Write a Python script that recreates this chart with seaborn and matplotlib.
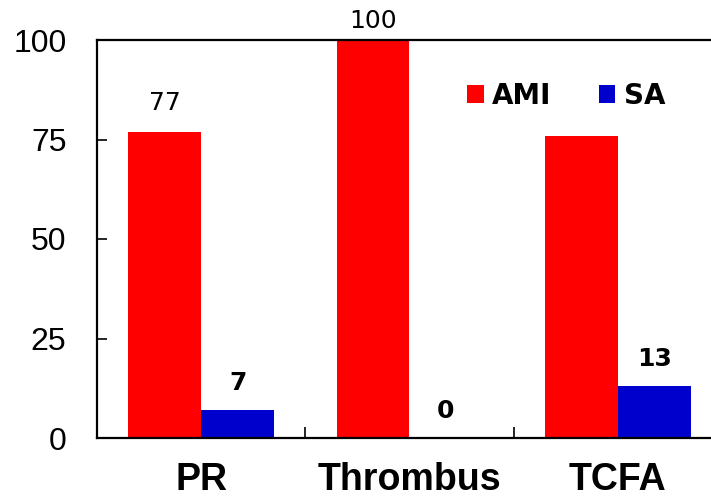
import matplotlib
matplotlib.use("Agg")
import matplotlib.pyplot as plt
import matplotlib.ticker as mticker
from matplotlib.patches import Patch
import seaborn as sns
import pandas as pd

# Data
categories = ["PR", "Thrombus", "TCFA"]
groups = ["AMI", "SA"]
ami_values = [77, 100, 76]
sa_values = [7, 0, 13]
ami_labelled = [True, True, False]
sa_labelled = [True, True, True]
y_ticks = [0, 25, 50, 75, 100]

colors = {"AMI": "#FF0000", "SA": "#0000CC"}

df = pd.DataFrame({
    "category": categories * 2,
    "group": ["AMI"] * len(categories) + ["SA"] * len(categories),
    "value": ami_values + sa_values,
})

sns.set_theme(style="white")
plt.rcParams["font.family"] = ["Liberation Sans", "DejaVu Sans"]
plt.rcParams["text.color"] = "black"
plt.rcParams["xtick.color"] = "black"
plt.rcParams["ytick.color"] = "black"
plt.rcParams["xtick.labelcolor"] = "black"
plt.rcParams["ytick.labelcolor"] = "black"

fig = plt.figure(figsize=(7.11, 5.01), dpi=100)
ax = fig.add_axes([97 / 711, 63 / 501, 625 / 711, 398 / 501])

sns.barplot(data=df, x="category", y="value", hue="group", order=categories,
            hue_order=groups, palette=colors, width=0.7, gap=0, saturation=1,
            legend=False, ax=ax, linewidth=0)

ax.set_xlim(-0.5, len(categories) - 0.5)
ax.set_ylim(0, 100)
ax.set_yticks(y_ticks)
ax.set_xlabel("")
ax.set_ylabel("")

for s in ax.spines.values():
    s.set_color("black")
    s.set_linewidth(1.6)
ax.spines["right"].set_visible(False)

# y ticks point inward
ax.tick_params(axis="y", direction="in", length=7, width=1.2, color="black",
               labelcolor="black", labelsize=23, pad=22, left=True)

# category dividers as inward minor ticks, no ticks at category centers
ax.xaxis.set_minor_locator(mticker.FixedLocator([0.5, 1.5]))
ax.tick_params(axis="x", which="major", length=0, labelsize=27, pad=17,
               labelcolor="black")
ax.tick_params(axis="x", which="minor", direction="in", length=8, width=1.2,
               color="black", bottom=True)
for t in ax.get_xticklabels():
    t.set_fontweight("bold")

# value labels
ami_bars, sa_bars = ax.containers[0], ax.containers[1]
for bar, v, show in zip(ami_bars, ami_values, ami_labelled):
    if show:
        off = 5 if v >= 100 else 12
        ax.annotate(f"{v}", (bar.get_x() + bar.get_width() / 2, v),
                    xytext=(0, off), textcoords="offset points",
                    ha="center", va="bottom", fontsize=18, color="black",
                    family="DejaVu Sans", annotation_clip=False)
for bar, v, show in zip(sa_bars, sa_values, sa_labelled):
    if show:
        ax.annotate(f"{v}", (bar.get_x() + bar.get_width() / 2, v),
                    xytext=(0, 11), textcoords="offset points",
                    ha="center", va="bottom", fontsize=18, fontweight="bold",
                    color="black", family="DejaVu Sans", annotation_clip=False)

handles = [Patch(facecolor=colors[g], edgecolor="none", label=g) for g in groups]
leg = ax.legend(handles=handles, loc="center left", bbox_to_anchor=(0.592, 0.86),
                ncol=2, frameon=False, handlelength=0.6, handleheight=0.6,
                handletextpad=0.3, columnspacing=1.7, borderpad=0,
                borderaxespad=0, prop={"family": "DejaVu Sans", "weight": "bold",
                                       "size": 20})
for t in leg.get_texts():
    t.set_color("black")

fig.savefig("out.png", dpi=100)
